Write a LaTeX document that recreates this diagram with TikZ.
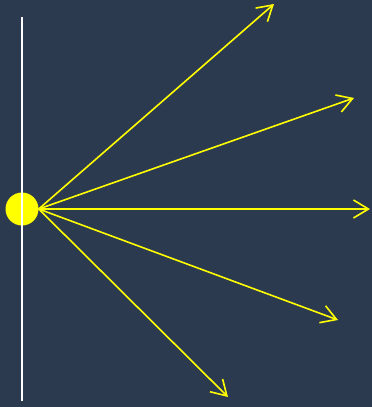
\documentclass[tikz,border=0pt]{standalone}
\usetikzlibrary{arrows.meta}
\definecolor{bgblue}{HTML}{2C3A50}
\definecolor{rayyellow}{HTML}{FFFF00}
\begin{document}
\begin{tikzpicture}[
  x=1pt, y=-1pt,
  source/.style={circle, fill=rayyellow, inner sep=0pt, minimum size=33pt},
  ray/.style={line width=1.6pt, draw=rayyellow, -{Straight Barb[length=15pt, width=18pt, line width=1.6pt]}},
  wall/.style={line width=1.8pt, draw=white}
]
  \fill[bgblue] (0,0) rectangle (372,407);
  \useasboundingbox (0,0) rectangle (372,407);

  % fuente y pared
  \node[source] (src) at (22,209) {};
  \coordinate (wtop) at (22,17);
  \coordinate (wbot) at (22,401);
  \draw[wall] (wtop) -- (wbot);

  % extremos de los rayos
  \coordinate (r1) at (274,4);
  \coordinate (r2) at (354,98);
  \coordinate (r3) at (370,209);
  \coordinate (r4) at (338,320);
  \coordinate (r5) at (228,397);

  % Rayos
  \foreach \r in {r1,r2,r3,r4,r5}
    \draw[ray] (src.east) -- (\r);
\end{tikzpicture}
\end{document}
